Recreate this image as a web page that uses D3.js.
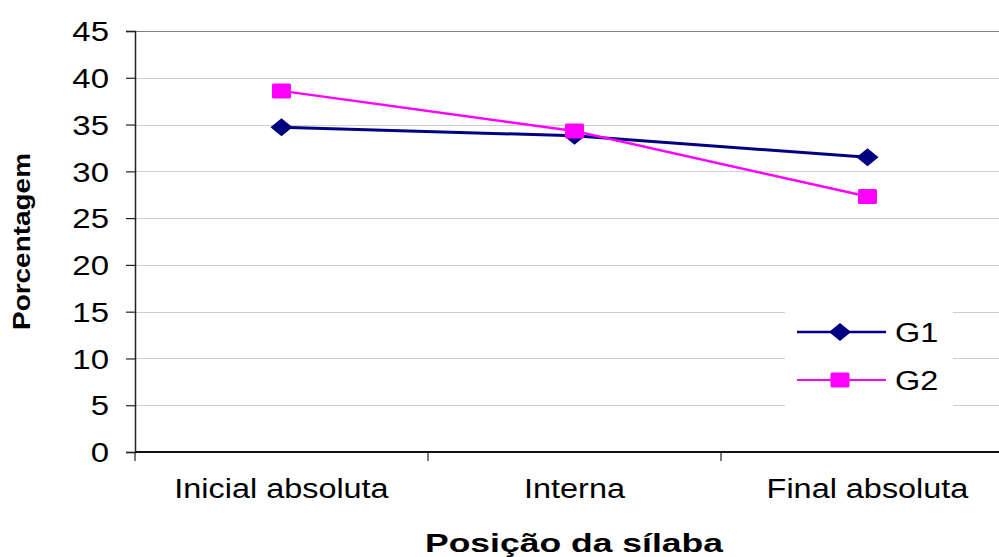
<!DOCTYPE html>
<html>
<head>
<meta charset="utf-8">
<script src="https://cdn.jsdelivr.net/npm/d3@7"></script>
<style>
    body { margin: 0; background: #fff; }
    svg { display: block; font-family: "Liberation Sans", Arial, sans-serif; }
</style>
</head>
<body>
<svg id="drawing_region"></svg>
<script>
// categories and series
const categories = ["Inicial absoluta", "Interna", "Final absoluta"];
const g1_values = [34.7, 33.8, 31.5];
const g2_values = [38.6, 34.3, 27.3];
const series_names = ["G1", "G2"];
const y_ticks = [0, 5, 10, 15, 20, 25, 30, 35, 40, 45];

const config = {
    width: 999,
    height: 557,
    margin: { top: 31, left: 135, bottom: 105, right: -15 }
};

const svg = d3.select('#drawing_region')
    .attr('width', config.width)
    .attr('height', config.height);

const inner_width = config.width - config.margin.left - config.margin.right;
const inner_height = config.height - config.margin.top - config.margin.bottom;

const chart = svg.append('g')
    .attr('transform', `translate(${config.margin.left}, ${config.margin.top})`);

const xscale = d3.scaleBand()
    .domain(categories)
    .range([0, inner_width]);

const yscale = d3.scaleLinear()
    .domain([0, 45])
    .range([inner_height, 0]);

// stretch text horizontally like the original (Excel export is wider)
function stretch(sel, factor) {
    sel.each(function () {
        const len = this.getComputedTextLength();
        d3.select(this)
            .attr('textLength', len * factor)
            .attr('lengthAdjust', 'spacingAndGlyphs');
    });
}

// gridlines
chart.append('g')
    .selectAll('line')
    .data(y_ticks.filter(d => d > 0))
    .join('line')
    .attr('x1', 0)
    .attr('x2', inner_width)
    .attr('y1', d => Math.round(yscale(d)) + 0.5)
    .attr('y2', d => Math.round(yscale(d)) + 0.5)
    .attr('stroke', d => d === 45 ? '#808080' : '#cfcfcf')
    .attr('stroke-width', 1.2);

// y axis
const yaxis = d3.axisLeft(yscale)
    .tickValues(y_ticks)
    .tickSize(9)
    .tickPadding(17);

const yaxis_group = chart.append('g').call(yaxis);
yaxis_group.select('.domain').attr('stroke', '#222').attr('stroke-width', 1.5);
yaxis_group.selectAll('.tick line').attr('stroke', '#222').attr('stroke-width', 1.2);
yaxis_group.selectAll('.tick text')
    .attr('font-size', 27)
    .attr('fill', '#000')
    .attr('dy', '0.36em')
    .call(stretch, 1.22);

// x axis
const xaxis_group = chart.append('g')
    .attr('transform', `translate(0, ${inner_height})`);

xaxis_group.append('line')
    .attr('x1', 0)
    .attr('x2', inner_width)
    .attr('stroke', '#111')
    .attr('stroke-width', 1.8);

xaxis_group.selectAll('.xtick')
    .data(categories)
    .join('line')
    .attr('class', 'xtick')
    .attr('x1', d => xscale(d))
    .attr('x2', d => xscale(d))
    .attr('y1', 0)
    .attr('y2', 9)
    .attr('stroke', '#222')
    .attr('stroke-width', 1.2);

xaxis_group.selectAll('.xlabel')
    .data(categories)
    .join('text')
    .attr('class', 'xlabel')
    .attr('x', d => xscale(d) + xscale.bandwidth() / 2)
    .attr('y', 46)
    .attr('text-anchor', 'middle')
    .attr('font-size', 27)
    .text(d => d)
    .call(stretch, 1.2);

// series
const series = [
    { name: series_names[0], values: g1_values, color: '#000080', shape: d3.symbolDiamond, width: 3 },
    { name: series_names[1], values: g2_values, color: '#ff00ff', shape: d3.symbolSquare, width: 2.5 }
];

const line = d3.line()
    .x((d, i) => xscale(categories[i]) + xscale.bandwidth() / 2)
    .y(d => yscale(d));

function marker(g, s) {
    if (s.shape === d3.symbolDiamond) {
        g.append('path')
            .attr('d', 'M-11,0L0,-9L11,0L0,9Z')
            .attr('fill', s.color);
    } else {
        g.append('rect')
            .attr('x', -9.5)
            .attr('y', -7.5)
            .attr('width', 19)
            .attr('height', 15)
            .attr('rx', 1.5)
            .attr('fill', s.color);
    }
}

series.forEach(s => {
    chart.append('path')
        .datum(s.values)
        .attr('d', line)
        .attr('fill', 'none')
        .attr('stroke', s.color)
        .attr('stroke-width', s.width);

    s.values.forEach((v, i) => {
        const g = chart.append('g')
            .attr('transform', `translate(${xscale(categories[i]) + xscale.bandwidth() / 2}, ${yscale(v)})`);
        marker(g, s);
    });
});

// legend
const legend = svg.append('g')
    .attr('transform', 'translate(785, 312)');

legend.append('rect')
    .attr('width', 168)
    .attr('height', 94)
    .attr('fill', '#fff');

series.forEach((s, i) => {
    const row = legend.append('g')
        .attr('transform', `translate(0, ${20 + i * 48})`);
    row.append('line')
        .attr('x1', 12)
        .attr('x2', 101)
        .attr('stroke', s.color)
        .attr('stroke-width', s.width - 0.5);
    const m = row.append('g').attr('transform', 'translate(55, 0)');
    marker(m, s);
    row.append('text')
        .attr('x', 110)
        .attr('y', 9.5)
        .attr('font-size', 27)
        .text(s.name)
        .call(stretch, 1.2);
});

// axis titles
svg.append('text')
    .attr('x', 574)
    .attr('y', 552)
    .attr('text-anchor', 'middle')
    .attr('font-size', 26)
    .attr('font-weight', 'bold')
    .attr('textLength', 298)
    .attr('lengthAdjust', 'spacingAndGlyphs')
    .text('Posição da sílaba');

svg.append('text')
    .attr('transform', 'translate(30, 241.5) rotate(-90)')
    .attr('text-anchor', 'middle')
    .attr('font-size', 24)
    .attr('font-weight', 'bold')
    .attr('textLength', 177)
    .attr('lengthAdjust', 'spacingAndGlyphs')
    .text('Porcentagem');
</script>
</body>
</html>
